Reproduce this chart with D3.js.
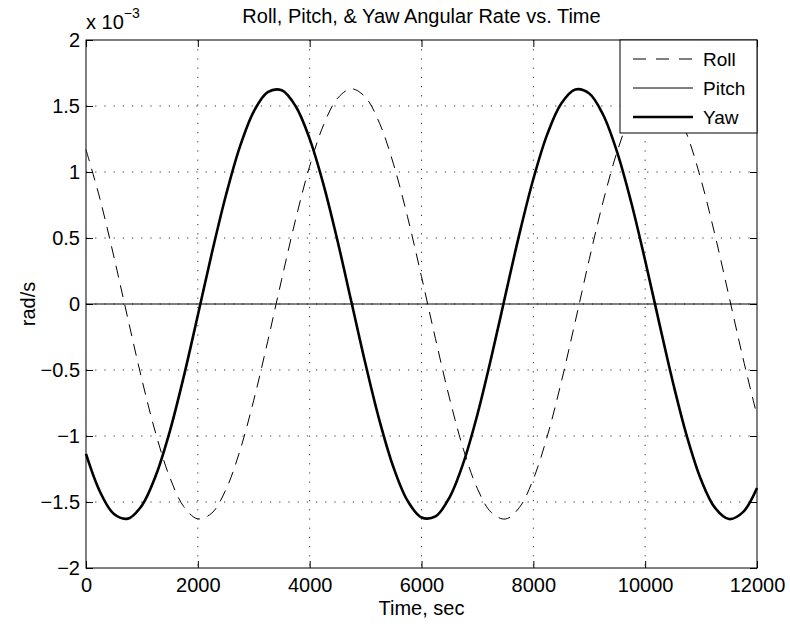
<!DOCTYPE html>
<html>
<head>
<meta charset="utf-8">
<script src="https://cdn.jsdelivr.net/npm/d3@7/dist/d3.min.js"></script>
<style>
  body { margin: 0; background: #fff; }
  svg text { font-family: "Liberation Sans", Arial, Helvetica, sans-serif; fill: #000; }
</style>
</head>
<body>
<svg id="chart"></svg>
<script>
// time samples (sec) and angular rates, in units of 1e-3 rad/s
var timeSec = d3.range(0, 12001, 250);
var rollRate = [1.169, 0.796, 0.356, -0.113, -0.573, -0.985, -1.315, -1.536, -1.628, -1.584,
  -1.408, -1.115, -0.729, -0.282, 0.188, 0.643, 1.044, 1.358, 1.559, 1.630,
  1.565, 1.369, 1.059, 0.661, 0.207, -0.263, -0.712, -1.101, -1.399, -1.580,
  -1.629, -1.542, -1.326, -1.001, -0.591, -0.132, 0.338, 0.779, 1.156, 1.436,
  1.597, 1.624, 1.516, 1.281, 0.940, 0.520, 0.057, -0.411, -0.845];
var pitchRate = timeSec.map(function() { return 0; });
var yawRate = [-1.136, -1.422, -1.591, -1.626, -1.526, -1.298, -0.963, -0.547, -0.085, 0.384,
  0.820, 1.189, 1.458, 1.605, 1.619, 1.498, 1.251, 0.901, 0.475, 0.009,
  -0.457, -0.885, -1.239, -1.490, -1.617, -1.609, -1.466, -1.202, -0.837, -0.402,
  0.066, 0.529, 0.947, 1.287, 1.519, 1.625, 1.595, 1.432, 1.149, 0.771,
  0.329, -0.141, -0.600, -1.008, -1.332, -1.545, -1.629, -1.577, -1.394];
var xTicks = [0, 2000, 4000, 6000, 8000, 10000, 12000];
var yTicks = [-2, -1.5, -1, -0.5, 0, 0.5, 1, 1.5, 2];
var seriesNames = ["Roll", "Pitch", "Yaw"];

// axes area in page pixels
var margin = { top: 40, right: 33, bottom: 58, left: 86 };
var W = 790, H = 626;
var width = W - margin.left - margin.right;
var height = H - margin.top - margin.bottom;
var fontSize = 20;

var svg = d3.select("#chart").attr("width", W).attr("height", H);
var g = svg.append("g").attr("transform", "translate(" + margin.left + "," + margin.top + ")");

var x = d3.scaleLinear().domain([0, 12000]).range([0, width]);
var y = d3.scaleLinear().domain([-2, 2]).range([height, 0]);

// dotted grid
g.selectAll(".gx").data(xTicks.slice(1, -1)).enter().append("line")
  .attr("x1", function(d) { return x(d); }).attr("x2", function(d) { return x(d); })
  .attr("y1", 0).attr("y2", height)
  .attr("stroke", "#333").attr("stroke-width", 1).attr("stroke-dasharray", "1.2,8");
g.selectAll(".gy").data(yTicks.slice(1, -1)).enter().append("line")
  .attr("y1", function(d) { return y(d); }).attr("y2", function(d) { return y(d); })
  .attr("x1", 0).attr("x2", width)
  .attr("stroke", "#333").attr("stroke-width", 1).attr("stroke-dasharray", "1.2,8");

// axes with inward ticks
function styleAxis(sel) {
  sel.select(".domain").remove();
  sel.selectAll("line").attr("stroke", "#000");
  sel.selectAll("text").attr("font-size", fontSize + "px")
    .style("font-family", "'Liberation Sans', Arial, Helvetica, sans-serif");
}
g.append("g").attr("transform", "translate(0," + height + ")")
  .call(d3.axisBottom(x).tickValues(xTicks).tickFormat(d3.format("d")).tickSize(-7).tickPadding(10))
  .call(styleAxis);
g.append("g")
  .call(d3.axisTop(x).tickValues(xTicks).tickFormat("").tickSize(-7))
  .call(styleAxis);
g.append("g")
  .call(d3.axisLeft(y).tickValues(yTicks).tickFormat(function(d) { return String(d).replace("-", "\u2212"); })
    .tickSize(-7).tickPadding(6))
  .call(styleAxis);
g.append("g").attr("transform", "translate(" + width + ",0)")
  .call(d3.axisRight(y).tickValues(yTicks).tickFormat("").tickSize(-7))
  .call(styleAxis);

// plot lines
var line = function(vals) {
  return d3.line()
    .x(function(d, i) { return x(timeSec[i]); })
    .y(function(d) { return y(d); })
    .curve(d3.curveCatmullRom)(vals);
};
var styles = [
  { data: rollRate, w: 1, dash: "12,8" },
  { data: pitchRate, w: 1, dash: null },
  { data: yawRate, w: 2.6, dash: null }
];
styles.forEach(function(s) {
  g.append("path").attr("d", line(s.data))
    .attr("fill", "none").attr("stroke", "#000")
    .attr("stroke-width", s.w).attr("stroke-dasharray", s.dash);
});

// box
g.append("rect").attr("width", width).attr("height", height)
  .attr("fill", "none").attr("stroke", "#000").attr("stroke-width", 1);

// legend
var lg = g.append("g").attr("transform", "translate(" + (width - 137) + ",0)");
lg.append("rect").attr("width", 137).attr("height", 93)
  .attr("fill", "#fff").attr("stroke", "#000").attr("stroke-width", 1);
seriesNames.forEach(function(name, i) {
  var yy = 19 + i * 29;
  lg.append("line").attr("x1", 13).attr("x2", 73).attr("y1", yy).attr("y2", yy)
    .attr("stroke", "#000").attr("stroke-width", styles[i].w)
    .attr("stroke-dasharray", styles[i].dash ? "13,10" : null);
  lg.append("text").attr("x", 83).attr("y", yy).attr("dy", "0.35em")
    .attr("font-size", "19px").text(name);
});

// title and labels
svg.append("text").attr("x", margin.left + width / 2).attr("y", 23)
  .attr("text-anchor", "middle").attr("font-size", fontSize + "px")
  .text("Roll, Pitch, & Yaw Angular Rate vs. Time");
svg.append("text").attr("x", margin.left + width / 2).attr("y", 615)
  .attr("text-anchor", "middle").attr("font-size", fontSize + "px").text("Time, sec");
svg.append("text").attr("transform", "translate(35," + (margin.top + height / 2) + ") rotate(-90)")
  .attr("text-anchor", "middle").attr("font-size", fontSize + "px").text("rad/s");

// exponent label
var ex = svg.append("text").attr("x", 86).attr("y", 29).attr("font-size", fontSize + "px");
ex.append("tspan").text("x 10");
ex.append("tspan").attr("dy", -11).attr("font-size", "14px").text("\u22123");
</script>
</body>
</html>
